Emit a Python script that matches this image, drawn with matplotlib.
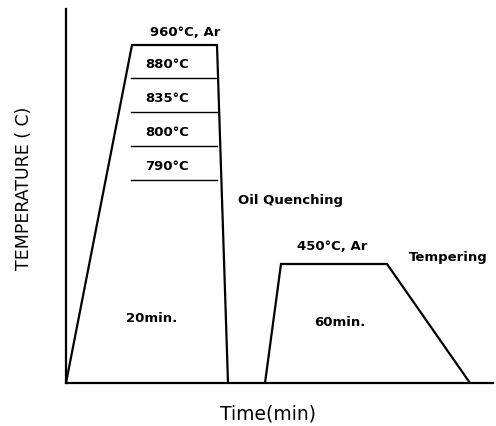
import matplotlib
matplotlib.use("Agg")
import matplotlib.pyplot as plt

# Schematic heat-treatment profile (arbitrary schematic units)
quench_time = [0, 66, 151, 162]
quench_temp = [0, 338, 338, 0]
hold_levels = [305, 271, 237, 203]          # 880, 835, 800, 790 °C levels
hold_x = [65, 151]
hold_labels = ["880°C", "835°C", "800°C", "790°C"]
temper_time = [199, 215, 321, 404]
temper_temp = [0, 119, 119, 0]

W, H = 496, 427
fig = plt.figure(figsize=(W / 100, H / 100), dpi=100)
x0, y0 = 66, 384
ax = fig.add_axes([x0 / W, (H - y0) / H, (493 - x0) / W, (y0 - 10) / H])
ax.set_xlim(0, 493 - x0)
ax.set_ylim(0, y0 - 10)
for s in ["top", "right"]:
    ax.spines[s].set_visible(False)
for s in ["left", "bottom"]:
    ax.spines[s].set_linewidth(1.6)
ax.set_xticks([])
ax.set_yticks([])

lw = 1.6
ax.plot(quench_time, quench_temp, color="black", lw=lw, solid_joinstyle="miter")
ax.plot(temper_time, temper_temp, color="black", lw=lw, solid_joinstyle="miter")
for lev in hold_levels:
    ax.plot(hold_x, [lev, lev], color="black", lw=1.0)

fs = 9.5
fw = "bold"
ax.text(119, 352, "960°C, Ar", ha="center", va="center", fontsize=fs, fontweight=fw)
for lev, lab in zip(hold_levels, hold_labels):
    ax.text(101, lev + 14, lab, ha="center", va="center", fontsize=fs, fontweight=fw)
ax.text(172, 183, "Oil Quenching", ha="left", va="center", fontsize=fs, fontweight=fw)
ax.text(266, 137, "450°C, Ar", ha="center", va="center", fontsize=fs, fontweight=fw)
ax.text(382, 127, "Tempering", ha="center", va="center", fontsize=fs, fontweight=fw)
ax.text(86, 66, "20min.", ha="center", va="center", fontsize=fs, fontweight=fw)
ax.text(274, 61, "60min.", ha="center", va="center", fontsize=fs, fontweight=fw)

fig.text(268 / W, 1 - 414 / H, "Time(min)", ha="center", va="center", fontsize=13.5)
fig.text(24 / W, 1 - 188 / H, "TEMPERATURE ( C)", ha="center", va="center",
         rotation=90, fontsize=12.5)

fig.savefig("out.png", dpi=100)
